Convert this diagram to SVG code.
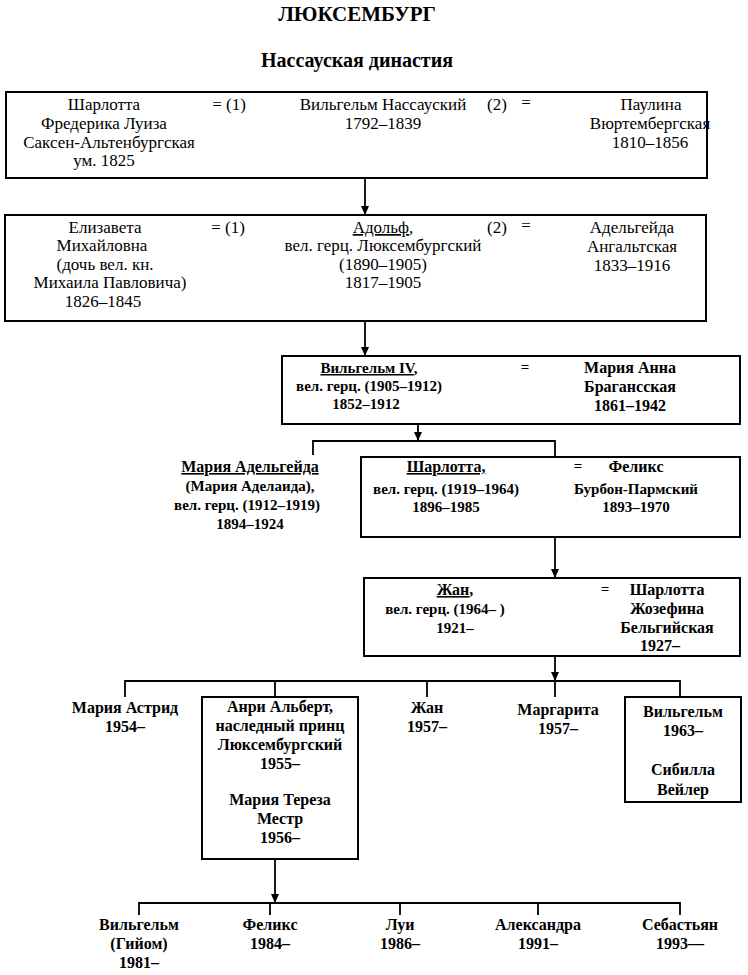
<svg xmlns="http://www.w3.org/2000/svg" width="748" height="975" viewBox="0 0 748 975">
<defs>
<style>
text{font-family:"Liberation Serif","Times New Roman",serif;fill:#000;text-anchor:middle}
.t{font-size:21px;font-weight:bold}
.s{font-size:20px;font-weight:bold}
.r{font-size:17px}
.b{font-size:15px;font-weight:bold}
.c{font-size:16px;font-weight:bold}
.u{text-decoration:underline}
.box{fill:#fff;stroke:#000;stroke-width:2}
.con{fill:none;stroke:#000;stroke-width:1.8}
</style>
<marker id="arr" markerUnits="userSpaceOnUse" markerWidth="9" markerHeight="8" refX="9" refY="4" orient="auto">
<path d="M0,0 L9,4 L0,8 z" fill="#000"/>
</marker>
</defs>
<rect width="748" height="975" fill="#fff"/>
<g id="title">
<text class="t" x="357" y="21">ЛЮКСЕМБУРГ</text>
<text class="s" x="357" y="67">Нассауская династия</text>
</g>
<g id="connectors" class="con">
<path d="M365,178 V215" marker-end="url(#arr)"/>
<path d="M365,321 V356" marker-end="url(#arr)"/>
<path d="M418,424 V441" marker-end="url(#arr)"/>
<path d="M313,455 V441 H555 V457"/>
<path d="M555,537 V578" marker-end="url(#arr)"/>
<path d="M555,656 V681" marker-end="url(#arr)"/>
<path d="M125,697 V681 H680 V697 M275,681 V697 M427,681 V697 M555,681 V697"/>
<path d="M275,859 V903" marker-end="url(#arr)"/>
<path d="M139,915 V903 H680 V915 M270,903 V915 M400,903 V915 M538,903 V915"/>
</g>
<g id="n1">
<rect class="box" x="6" y="92" width="701" height="86"/>
<text class="r" x="104" y="110">Шарлотта</text>
<text class="r" x="104" y="129">Фредерика Луиза</text>
<text class="r" x="109" y="148">Саксен-Альтенбургская</text>
<text class="r" x="104" y="166">ум. 1825</text>
<text class="r" x="229" y="110">= (1)</text>
<text class="r" x="383" y="110">Вильгельм Нассауский</text>
<text class="r" x="383" y="129">1792–1839</text>
<text class="r" x="497" y="110">(2)</text>
<text class="r" x="526" y="108">=</text>
<text class="r" x="651" y="110">Паулина</text>
<text class="r" x="650" y="129">Вюртембергская</text>
<text class="r" x="650" y="148">1810–1856</text>
</g>
<g id="n2">
<rect class="box" x="5" y="215" width="701" height="106"/>
<text class="r" x="105" y="233">Елизавета</text>
<text class="r" x="102" y="251">Михайловна</text>
<text class="r" x="105" y="270">(дочь вел. кн.</text>
<text class="r" x="110" y="288">Михаила Павловича)</text>
<text class="r" x="103" y="307">1826–1845</text>
<text class="r" x="228" y="233">= (1)</text>
<text class="r" x="383" y="233"><tspan class="u">Адольф</tspan>,</text>
<text class="r" x="383" y="251">вел. герц. Люксембургский</text>
<text class="r" x="383" y="270">(1890–1905)</text>
<text class="r" x="383" y="288">1817–1905</text>
<text class="r" x="497" y="233">(2)</text>
<text class="r" x="526" y="231">=</text>
<text class="r" x="632" y="233">Адельгейда</text>
<text class="r" x="632" y="252">Ангальтская</text>
<text class="r" x="632" y="271">1833–1916</text>
</g>
<g id="n3">
<rect class="box" x="282" y="356" width="458" height="68"/>
<text class="b" x="369" y="373"><tspan class="u">Вильгельм IV</tspan>,</text>
<text class="b" x="369" y="391">вел. герц. (1905–1912)</text>
<text class="b" x="366" y="409">1852–1912</text>
<text class="b" x="525" y="372">=</text>
<text class="c" x="630" y="373">Мария Анна</text>
<text class="c" x="630" y="392">Брагансская</text>
<text class="c" x="630" y="411">1861–1942</text>
</g>
<g id="n_maria_adelgeida">
<text class="c" x="250" y="472"><tspan class="u">Мария Адельгейда</tspan></text>
<text class="b" x="250" y="491">(Мария Аделаида),</text>
<text class="b" x="247" y="510">вел. герц. (1912–1919)</text>
<text class="b" x="250" y="529">1894–1924</text>
</g>
<g id="n4">
<rect class="box" x="361" y="457" width="379" height="80"/>
<text class="c" x="446" y="472"><tspan class="u">Шарлотта,</tspan></text>
<text class="b" x="446" y="494">вел. герц. (1919–1964)</text>
<text class="b" x="446" y="512">1896–1985</text>
<text class="b" x="578" y="471">=</text>
<text class="c" x="636" y="472">Феликс</text>
<text class="b" x="636" y="494">Бурбон-Пармский</text>
<text class="b" x="636" y="512">1893–1970</text>
</g>
<g id="n5">
<rect class="box" x="364" y="578" width="376" height="78"/>
<text class="c" x="455" y="595"><tspan class="u">Жан</tspan>,</text>
<text class="b" x="445" y="614">вел. герц. (1964–  )</text>
<text class="b" x="455" y="633">1921–</text>
<text class="b" x="605" y="594">=</text>
<text class="c" x="667" y="595">Шарлотта</text>
<text class="c" x="667" y="614">Жозефина</text>
<text class="c" x="667" y="633">Бельгийская</text>
<text class="c" x="660" y="651">1927–</text>
</g>
<g id="c_maria_astrid">
<text class="c" x="125" y="713">Мария Астрид</text>
<text class="c" x="125" y="732">1954–</text>
</g>
<g id="c_anri">
<rect class="box" x="202" y="697" width="156" height="162"/>
<text class="c" x="280" y="712">Анри Альберт,</text>
<text class="c" x="280" y="731">наследный принц</text>
<text class="c" x="280" y="750">Люксембургский</text>
<text class="c" x="280" y="769">1955–</text>
<text class="c" x="280" y="805">Мария Тереза</text>
<text class="c" x="280" y="824">Местр</text>
<text class="c" x="280" y="843">1956–</text>
</g>
<g id="c_jean">
<text class="c" x="427" y="713">Жан</text>
<text class="c" x="427" y="732">1957–</text>
</g>
<g id="c_margarita">
<text class="c" x="558" y="715">Маргарита</text>
<text class="c" x="558" y="734">1957–</text>
</g>
<g id="c_wilhelm">
<rect class="box" x="625" y="697" width="116" height="105"/>
<text class="c" x="683" y="717">Вильгельм</text>
<text class="c" x="683" y="736">1963–</text>
<text class="c" x="683" y="775">Сибилла</text>
<text class="c" x="683" y="795">Вейлер</text>
</g>
<g id="g_guillaume">
<text class="c" x="139" y="930">Вильгельм</text>
<text class="c" x="139" y="949">(Гийом)</text>
<text class="c" x="139" y="968">1981–</text>
</g>
<g id="g_felix">
<text class="c" x="270" y="930">Феликс</text>
<text class="c" x="270" y="949">1984–</text>
</g>
<g id="g_louis">
<text class="c" x="400" y="930">Луи</text>
<text class="c" x="400" y="949">1986–</text>
</g>
<g id="g_alexandra">
<text class="c" x="538" y="930">Александра</text>
<text class="c" x="538" y="949">1991–</text>
</g>
<g id="g_sebastian">
<text class="c" x="680" y="930">Себастьян</text>
<text class="c" x="680" y="949">1993—</text>
</g>
</svg>
